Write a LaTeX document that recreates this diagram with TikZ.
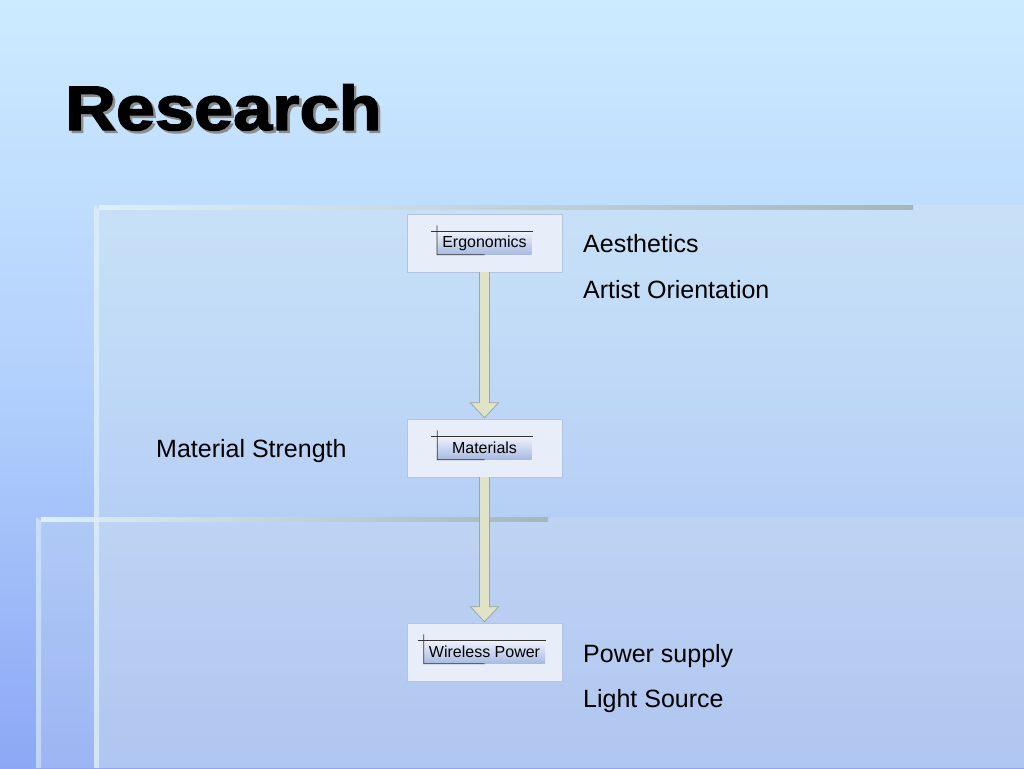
\documentclass[tikz,border=0pt]{standalone}
\usepackage{fontspec}
\setmainfont{Liberation Sans}
\newfontfamily\titlefont{Liberation Sans}[BoldFeatures={FakeBold=2}]
\usepackage{tikz}
\usetikzlibrary{calc,positioning}
\definecolor{bgtop}{RGB}{205,235,255}
\definecolor{bgmid}{RGB}{178,208,252}
\definecolor{bgbot}{RGB}{141,168,245}
\definecolor{panel}{RGB}{222,236,236}
\definecolor{boxfill}{RGB}{232,238,249}
\definecolor{boxline}{RGB}{178,196,222}
\definecolor{lbltop}{RGB}{238,242,251}
\definecolor{lblbot}{RGB}{168,186,226}
\definecolor{arrfill}{RGB}{224,227,200}
\definecolor{arrline}{RGB}{160,168,148}
\definecolor{edgebar}{RGB}{220,240,248}
\definecolor{topbar}{RGB}{165,182,182}
\tikzset{
  slidebox/.style={draw=boxline, fill=boxfill, minimum width=155pt, minimum height=58pt, inner sep=0pt},
  lbl/.style={top color=lbltop, bottom color=lblbot, minimum width=94pt, minimum height=23pt, inner xsep=5pt, inner ysep=3pt, font=\fontsize{16}{18}\selectfont},
  note/.style={anchor=base west, inner sep=0pt, font=\fontsize{25}{30}\selectfont},
  blockarrow/.style={draw=arrline, fill=arrfill, line width=0.8pt, line join=miter},
  titletext/.style={anchor=base west, inner sep=0pt, xscale=1.115, font=\titlefont\bfseries\fontsize{63}{70}\selectfont}
}

\begin{document}
\begin{tikzpicture}[x=1pt, y=-1pt]
\useasboundingbox (0,0) rectangle (1024,768);
%%%%% Background %%%%%
\shade[top color=bgtop, bottom color=bgbot, middle color=bgmid] (0,0) rectangle (1024,768);
\fill[panel, opacity=0.30] (94,205) rectangle (1024,768);
\fill[panel, opacity=0.20] (36,517) rectangle (1024,768);
\shade[left color=edgebar, right color=topbar] (99,205) rectangle (913,209);
\shade[left color=edgebar, right color=topbar] (41,517) rectangle (548,521);
\fill[edgebar, opacity=0.75] (94,205) -- (99,209) -- (99,768) -- (94,768) -- cycle;
\fill[edgebar, opacity=0.55] (36,517) -- (41,521) -- (41,768) -- (36,768) -- cycle;

%%%%% Title %%%%%
\coordinate (tpos) at (65,130);
\node[titletext, text=black!45] (titlesh) at ($(tpos)+(2.5,2.5)$) {Research};
\node[titletext] (title) at (tpos) {Research};

%%%%% Boxes %%%%%
\node[slidebox] (ergo) at (484.5,243) {};
\node[slidebox] (mat) at (484.5,448) {};
\node[slidebox] (wire) at (484.5,652) {};
\node[lbl] (ergot) at (ergo) {Ergonomics};
\node[lbl] (matt) at (mat) {Materials};
\node[lbl] (wiret) at (wire) {Wireless Power};
\foreach \n in {ergot,matt,wiret}{
\draw[black!80, line width=0.8pt] ($(\n.north west)+(-6,0)$) -- ($(\n.north east)+(1,0)$);
\draw[black!80, line width=0.8pt] ($(\n.north west)+(0,-6)$) -- (\n.south west) -- ($(\n.south west)!0.5!(\n.south east)$);
}

%%%%% Arrows %%%%%
\foreach \a/\b in {ergo/mat, mat/wire}{
\draw[blockarrow] ($(\a.south)+(-5,0)$) -- ($(\b.north)+(-5,-16)$) -- ++(-9,0) -- ($(\b.north)+(0,-1)$) -- ($(\b.north)+(14,-16)$) -- ++(-9,0) -- ($(\a.south)+(5,0)$);
}

%%%%% Notes %%%%%
\node[note] (aes) at (583,252) {Aesthetics};
\node[note] (artist) at (583,298) {Artist Orientation};
\node[note] (strength) at (156,457) {Material Strength};
\node[note] (power) at (583,662) {Power supply};
\node[note] (light) at (583,707) {Light Source};
\end{tikzpicture}
\end{document}
